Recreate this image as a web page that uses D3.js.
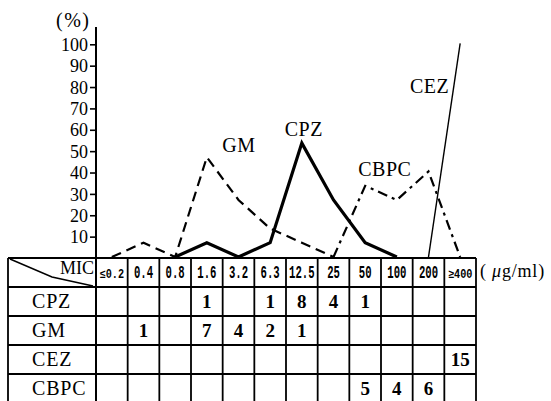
<!DOCTYPE html>
<html>
<head>
<meta charset="utf-8">
<script src="https://cdn.jsdelivr.net/npm/d3@7"></script>
<style>
  body { margin: 0; background: #fff; }
  svg { display: block; }
</style>
</head>
<body>
<div class="chart"></div>
<script>
// MIC classes (column headers of the table)
const mics = ["≤0.2", "0.4", "0.8", "1.6", "3.2", "6.3", "12.5", "25", "50", "100", "200", "≥400"];
const drugs = ["CPZ", "GM", "CEZ", "CBPC"];

// number of strains per MIC class (table cells)
const cpzCount = [null, null, null, 1, null, 1, 8, 4, 1, null, null, null];
const gmCount = [null, 1, null, 7, 4, 2, 1, null, null, null, null, null];
const cezCount = [null, null, null, null, null, null, null, null, null, null, null, 15];
const cbpcCount = [null, null, null, null, null, null, null, null, 5, 4, 6, null];

// percent curves
const cpzPct = [null, null, 0, 6.7, 0, 6.7, 53.3, 26.7, 6.7, 0, null, null];
const gmPct = [0, 6.7, 0, 46.7, 26.7, 13.3, 6.7, 0, null, null, null, null];
const cezPct = [null, null, null, null, null, null, null, null, null, null, 0, 100];
const cbpcPct = [null, null, null, null, null, null, null, 0, 33.3, 26.7, 40, 0];

const yTicks = [10, 20, 30, 40, 50, 60, 70, 80, 90, 100];

const w = 551;
const h = 401;
const tableLeft = 8;
const axisX = 96;
const tableRight = 476;
const zeroY = 258;
const rowH = 29;

const serif = "'Liberation Serif', 'Times New Roman', serif";

const svg = d3.select(".chart")
  .append("svg")
  .attr("width", w)
  .attr("height", h);

//scales
const x = d3.scaleBand().domain(mics).range([axisX, tableRight]);
const cx = (d) => x(d) + x.bandwidth() / 2;
const y = d3.scaleLinear().domain([0, 100]).range([zeroY, 44.3]);
const rowY = d3.scaleBand()
  .domain(["MIC"].concat(drugs))
  .range([zeroY, zeroY + rowH * 5]);

//y axis
const yAxis = d3.axisLeft(y).tickValues(yTicks).tickSize(6).tickPadding(2);
const gy = svg.append("g")
  .attr("transform", `translate(${axisX},0)`)
  .call(yAxis)
  .attr("font-family", serif)
  .attr("font-size", 18);
gy.select(".domain").remove();
gy.selectAll(".tick line").attr("stroke", "#000").attr("stroke-width", 1.6);
gy.selectAll(".tick text")
  .attr("fill", "#000")
  .attr("dy", "0.34em");

svg.append("line")
  .attr("x1", axisX).attr("x2", axisX)
  .attr("y1", 27).attr("y2", h + 5)
  .attr("stroke", "#000").attr("stroke-width", 2);

svg.append("text")
  .attr("x", 56).attr("y", 27)
  .attr("font-family", serif)
  .attr("font-size", 20)
  .style("letter-spacing", "1.5px")
  .text("(%)");

//table grid
const grid = svg.append("g").attr("stroke", "#000").attr("stroke-width", 1.8);
rowY.domain().forEach((r) => {
  grid.append("line")
    .attr("x1", tableLeft).attr("x2", tableRight)
    .attr("y1", rowY(r)).attr("y2", rowY(r));
});
grid.append("line")
  .attr("x1", tableLeft).attr("x2", tableRight)
  .attr("y1", zeroY + rowH * 5).attr("y2", zeroY + rowH * 5);
grid.append("line")
  .attr("x1", tableLeft).attr("x2", tableLeft)
  .attr("y1", zeroY).attr("y2", h + 5);
mics.forEach((m) => {
  grid.append("line")
    .attr("x1", x(m) + x.bandwidth()).attr("x2", x(m) + x.bandwidth())
    .attr("y1", zeroY).attr("y2", h + 5);
});

// diagonal in the corner cell
const hdrBottom = zeroY + rowY.bandwidth();
svg.append("path")
  .attr("d", d3.line()([
    [tableLeft + 2, zeroY + 1],
    [tableLeft + 44, zeroY + 19],
    [axisX - 3, hdrBottom - 1]
  ]))
  .attr("fill", "none")
  .attr("stroke", "#000")
  .attr("stroke-width", 1.5);

svg.append("text")
  .attr("x", axisX - 2).attr("y", zeroY + 16)
  .attr("text-anchor", "end")
  .attr("font-family", serif)
  .attr("font-size", 18)
  .text("MIC");

// column headers
const isSmall = (d) => d[0] === "≤" || d[0] === "≥";
svg.append("g")
  .selectAll("text")
  .data(mics)
  .enter()
  .append("text")
  .attr("text-anchor", "middle")
  .attr("transform", (d) => `translate(${cx(d)},${zeroY + 19.5}) scale(${isSmall(d) ? 0.85 : 0.56},1)`)
  .attr("font-family", "'Liberation Mono', monospace")
  .attr("font-weight", "bold")
  .attr("font-size", (d) => (isSmall(d) ? 12 : 19))
  .text((d) => d);

svg.append("text")
  .attr("x", 480).attr("y", zeroY + 19)
  .attr("font-family", serif)
  .attr("font-size", 18)
  .style("letter-spacing", "0.8px")
  .html("( <tspan font-style='italic'>μ</tspan>g/ml)");

// row labels and counts
const counts = { CPZ: cpzCount, GM: gmCount, CEZ: cezCount, CBPC: cbpcCount };
drugs.forEach((dr) => {
  svg.append("text")
    .attr("x", 32).attr("y", rowY(dr) + 21)
    .attr("font-family", serif)
    .attr("font-size", 20)
    .style("letter-spacing", "0.8px")
    .text(dr);

  svg.append("g")
    .selectAll("text")
    .data(counts[dr].map((v, i) => ({ v: v, m: mics[i] })).filter((d) => d.v != null))
    .enter()
    .append("text")
    .attr("x", (d) => cx(d.m))
    .attr("y", rowY(dr) + 21)
    .attr("text-anchor", "middle")
    .attr("font-family", serif)
    .attr("font-size", 19)
    .attr("font-weight", "bold")
    .text((d) => d.v);
});

//curves
const series = [
  { name: "CPZ", pct: cpzPct, width: 3.2, dash: null },
  { name: "GM", pct: gmPct, width: 2.2, dash: "10,6" },
  { name: "CBPC", pct: cbpcPct, width: 2.2, dash: "10,5,3,5" },
  { name: "CEZ", pct: cezPct, width: 1.4, dash: null }
];
const line = d3.line()
  .defined((d) => d.v != null)
  .x((d) => cx(d.m))
  .y((d) => y(d.v) - 1);

svg.append("g")
  .selectAll("path")
  .data(series)
  .enter()
  .append("path")
  .attr("d", (s) => line(s.pct.map((v, i) => ({ v: v, m: mics[i] }))))
  .attr("fill", "none")
  .attr("stroke", "#000")
  .attr("stroke-width", (s) => s.width)
  .attr("stroke-dasharray", (s) => s.dash)
  .attr("stroke-linejoin", "miter");

// curve labels, placed next to a point of each curve
const curveLabels = [
  { name: "GM", pct: gmPct, at: "1.6", dx: 32, dy: -6, anchor: "middle" },
  { name: "CPZ", pct: cpzPct, at: "12.5", dx: 2, dy: -8, anchor: "middle" },
  { name: "CBPC", pct: cbpcPct, at: "100", dx: -12, dy: -25, anchor: "middle" },
  { name: "CEZ", pct: cezPct, at: "≥400", dx: -11, dy: 49, anchor: "end" }
];
svg.append("g")
  .selectAll("text")
  .data(curveLabels)
  .enter()
  .append("text")
  .attr("x", (d) => cx(d.at) + d.dx)
  .attr("y", (d) => y(d.pct[mics.indexOf(d.at)]) + d.dy)
  .attr("text-anchor", (d) => d.anchor)
  .attr("font-family", serif)
  .attr("font-size", 20)
  .style("letter-spacing", "0.5px")
  .text((d) => d.name);
</script>
</body>
</html>
